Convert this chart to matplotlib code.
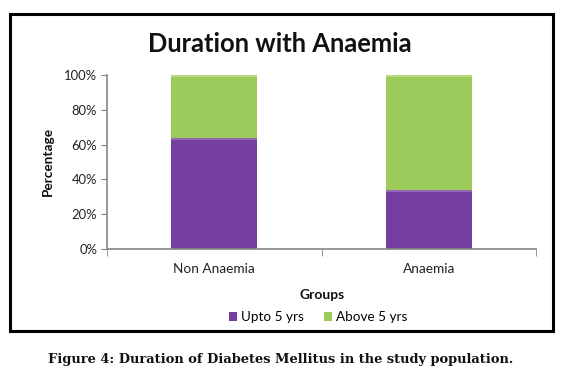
import matplotlib
matplotlib.use("Agg")
import matplotlib.pyplot as plt
from matplotlib.patches import Rectangle
import numpy as np

categories = ["Non Anaemia", "Anaemia"]
upto_5 = [64, 34]
above_5 = [36, 66]
series_names = ["Upto 5 yrs", "Above 5 yrs"]
yticks = [0, 20, 40, 60, 80, 100]
ytick_labels = ["0%", "20%", "40%", "60%", "80%", "100%"]

W, H = 570, 376
fig = plt.figure(figsize=(W / 100, H / 100), dpi=100)
plt.rcParams['font.family'] = ['Lato', 'DejaVu Sans']

purple = '#743F9E'
green = '#9DCB5B'
axis_gray = '#868686'

ax = fig.add_axes([107 / W, 1 - 249 / H, (536 - 107) / W, (249 - 75) / H])
x = np.arange(len(categories))
b1 = ax.bar(x, upto_5, width=0.4, color=purple, label=series_names[0], zorder=2)
b2 = ax.bar(x, above_5, width=0.4, bottom=upto_5, color=green, label=series_names[1], zorder=2)
# subtle bevel highlights
for bars, light in ((b1, '#9469B8'), (b2, '#B3DA7E')):
    for r in bars:
        ax.plot([r.get_x(), r.get_x() + r.get_width()], [r.get_y() + r.get_height() - 0.6] * 2,
                color=light, lw=1.5, zorder=3, solid_capstyle='butt')

ax.set_xlim(-0.5, 1.5)
ax.set_ylim(0, 100)
ax.set_yticks(yticks)
ax.set_yticklabels(ytick_labels, fontsize=9.4, color='#222222')
ax.set_xticks(x)
ax.set_xticklabels(categories, fontsize=9.8, color='#222222')
ax.set_xticks([-0.5, 0.5, 1.5], minor=True)
ax.tick_params(axis='x', which='major', length=0, pad=10)
ax.tick_params(axis='x', which='minor', length=5, color=axis_gray, direction='out')
ax.tick_params(axis='y', length=4, color=axis_gray, direction='out', pad=3)
for s in ('top', 'right'):
    ax.spines[s].set_visible(False)
for s in ('left', 'bottom'):
    ax.spines[s].set_color(axis_gray)
    ax.spines[s].set_linewidth(1.2)

fig.text(280 / W, 1 - 44 / H, "Duration with Anaemia", ha='center', va='center',
         fontsize=18.4, fontweight='bold', color='#111111')
fig.text(48 / W, 1 - 162 / H, "Percentage", rotation=90, ha='center', va='center',
         fontsize=9.8, fontweight='bold', color='#111111')
fig.text(322 / W, 1 - 295 / H, "Groups", ha='center', va='center',
         fontsize=10, fontweight='bold', color='#111111')

fig.legend(handles=[b1, b2], labels=series_names, loc='center', ncol=2,
           bbox_to_anchor=(318 / W, 1 - 317 / H), frameon=False, fontsize=9.7,
           handlelength=0.6, handleheight=0.6, handletextpad=0.3, columnspacing=1.5)

fig.patches.append(Rectangle((10 / W, 1 - 331 / H), (553 - 10) / W, (331 - 14) / H,
                             transform=fig.transFigure, fill=False, edgecolor='black',
                             linewidth=2.2, zorder=10))

fig.text(281 / W, 1 - 359 / H, "Figure 4: Duration of Diabetes Mellitus in the study population.",
         ha='center', va='center', fontsize=9.4, fontweight='bold',
         family=['DejaVu Serif'], color='#111111')

fig.savefig("out.png", dpi=100)
